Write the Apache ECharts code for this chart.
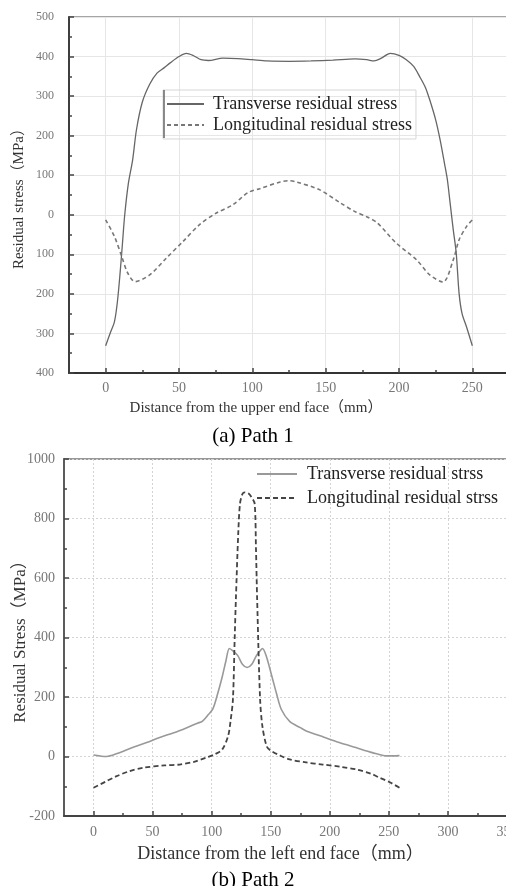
<!DOCTYPE html>
<html>
<head>
<meta charset="utf-8">
<script src="https://cdn.jsdelivr.net/npm/echarts@6/dist/echarts.min.js"></script>
<style>
  html, body { margin: 0; padding: 0; background: #fff; }
  #chart { width: 506px; height: 886px; }
</style>
</head>
<body>
<div id="chart"></div>
<script>
// Path 1 (distance from the upper end face, mm / stress, MPa)
const p1TransX = [0, 3, 6, 8, 10, 11.5, 13, 15.5, 18.4, 21, 25, 30, 35, 40, 44, 50, 55, 60, 65, 70, 80, 90, 100, 110, 125, 140, 155, 170, 178, 183, 188, 194, 200, 205, 210, 214, 218, 221, 225, 228, 231, 233, 235, 237, 239, 241, 243, 246, 250];
const p1TransY = [-331, -300, -270, -220, -140, -70, 0, 80, 139, 215, 285, 330, 358, 372, 384, 400, 408, 402, 392, 390, 396, 395, 392, 389, 388, 389, 391, 394, 392, 389, 396, 408, 403, 392, 375, 350, 322, 290, 240, 190, 130, 88, 25, -38, -96, -200, -250, -283, -331];
const p1LongX = [0, 6, 11, 15, 20, 30, 41.5, 52.6, 64, 75.7, 86.6, 97, 105, 119, 125, 130, 146, 160, 170, 178, 185, 198, 212, 221, 230, 237, 241, 246, 250];
const p1LongY = [-13, -55, -106, -147, -169, -152, -109, -68, -25, 5, 25, 56, 66, 83, 86, 83, 63, 30, 8, -5, -20, -71, -114, -152, -170, -114, -63, -30, -13];

// Path 2 (distance from the left end face, mm / stress, MPa)
const p2TransX = [0, 5, 11, 20, 33, 45, 56, 68, 79, 88, 92, 97, 101, 105, 109, 112, 115, 118, 122, 126, 130, 134, 138, 141, 143, 146, 151, 155, 159, 166, 175, 180, 195, 208, 222, 236, 248, 259];
const p2TransY = [5, 2, 0, 10, 30, 47, 64, 80, 97, 112, 118, 140, 160, 210, 269, 320, 363, 355, 340, 310, 299, 310, 340, 355, 363, 340, 269, 210, 158, 118, 97, 86, 65, 47, 30, 13, 2, 3];
const p2LongX = [0, 10, 19, 30, 42, 60, 73, 85, 96, 103, 109, 114, 116, 118, 119.5, 120.5, 122.5, 124, 126, 128, 131, 134, 136.4, 137.5, 138.5, 141, 143, 146.6, 150, 158, 166, 180, 194, 210, 223, 235, 242, 250, 259];
const p2LongY = [-105, -85, -67, -50, -38, -30, -27, -18, -3, 8, 24, 70, 120, 192, 400, 528, 750, 850, 882, 888, 885, 870, 850, 700, 528, 192, 100, 34, 20, 3, -10, -20, -27, -35, -44, -58, -71, -85, -105];

const p1Ticks = [0, 50, 100, 150, 200, 250];
const p1Minor = [25, 75, 125, 175, 225];
const p2Ticks = [0, 50, 100, 150, 200, 250, 300, 350];
const p2Minor = [25, 75, 125, 175, 225, 275, 325];

const zip = (xs, ys) => xs.map((x, i) => [x, ys[i]]);

const serif = "'Liberation Serif', 'Noto Sans CJK SC', serif";
const chart = echarts.init(document.getElementById('chart'));

const minorAxis = (grid, min, max, values) => ({
  type: 'value', gridIndex: grid, min: min, max: max, position: 'bottom',
  axisLine: { show: false, onZero: false },
  axisTick: { show: true, inside: true, length: 3, customValues: values, lineStyle: { color: '#444', width: 1.5 } },
  axisLabel: { show: false },
  splitLine: { show: false }
});

const option = {
  animation: false,
  backgroundColor: '#fff',
  title: [
    { text: '(a) Path 1', left: 'center', top: 421, textStyle: { fontFamily: serif, fontSize: 21, fontWeight: 'normal', color: '#000' } },
    { text: '(b) Path 2', left: 'center', top: 865, textStyle: { fontFamily: serif, fontSize: 21, fontWeight: 'normal', color: '#000' } }
  ],
  grid: [
    { left: 69, top: 17, width: 440, height: 356, show: true, borderColor: '#888', borderWidth: 1.5, outerBoundsMode: 'none' },
    { left: 64, top: 459, width: 443, height: 357, show: true, borderColor: '#777', borderWidth: 1.5, outerBoundsMode: 'none' }
  ],
  legend: [
    {
      data: ['Transverse residual stress', 'Longitudinal residual stress'],
      orient: 'vertical', left: 163, top: 90,
      borderColor: '#d6d6d6', borderWidth: 1, padding: [5, 4, 5, 3],
      itemWidth: 37, itemHeight: 14, itemGap: 3,
      itemStyle: { opacity: 0 },
      textStyle: { fontFamily: serif, fontSize: 18, color: '#222', padding: [0, 0, 0, 4] }
    },
    {
      data: ['Transverse residual strss', 'Longitudinal residual strss'],
      orient: 'vertical', left: 256, top: 465, padding: 0,
      itemWidth: 40, itemHeight: 14, itemGap: 6,
      itemStyle: { opacity: 0 },
      textStyle: { fontFamily: serif, fontSize: 18, color: '#222', padding: [0, 0, 0, 5] }
    }
  ],
  graphic: [
    { type: 'line', shape: { x1: 164, y1: 90, x2: 164, y2: 138 }, style: { stroke: '#666', lineWidth: 1.5 }, z: 100 }
  ],
  xAxis: [
    {
      type: 'value', gridIndex: 0, min: -25, max: 275,
      name: 'Distance from the upper end face（mm）', nameLocation: 'middle', nameGap: 28,
      nameTextStyle: { fontFamily: serif, fontSize: 15, color: '#333', padding: [0, 66, 0, 0] },
      axisLine: { onZero: false, lineStyle: { color: '#333', width: 1.8 } },
      axisTick: { inside: true, length: 5, customValues: p1Ticks, lineStyle: { color: '#444', width: 1.5 } },
      axisLabel: { customValues: p1Ticks, margin: 8, fontFamily: serif, fontSize: 14, color: '#777' },
      splitLine: { show: true, lineStyle: { color: '#e6e6e6', width: 1 } }
    },
    minorAxis(0, -25, 275, p1Minor),
    {
      type: 'value', gridIndex: 1, min: -25, max: 350,
      name: 'Distance from the left end face（mm）', nameLocation: 'middle', nameGap: 29,
      nameTextStyle: { fontFamily: serif, fontSize: 18, color: '#333', padding: [0, 10, 0, 0] },
      axisLine: { onZero: false, lineStyle: { color: '#444', width: 1.8 } },
      axisTick: { inside: true, length: 5, customValues: p2Ticks, lineStyle: { color: '#444', width: 1.5 } },
      axisLabel: { customValues: p2Ticks, margin: 9, fontFamily: serif, fontSize: 14, color: '#777' },
      splitLine: { show: true, lineStyle: { color: '#d4d4d4', width: 1, type: [2, 2] } }
    },
    minorAxis(1, -25, 350, p2Minor)
  ],
  yAxis: [
    {
      type: 'value', gridIndex: 0, min: -400, max: 500, interval: 100,
      name: 'Residual stress（MPa）', nameLocation: 'middle', nameGap: 42, nameMoveOverlap: false,
      nameTextStyle: { fontFamily: serif, fontSize: 15, color: '#333' },
      axisLine: { show: true, onZero: false, lineStyle: { color: '#333', width: 1.8 } },
      axisTick: { show: true, inside: true, length: 5, lineStyle: { color: '#444', width: 1.5 } },
      minorTick: { show: true, splitNumber: 2, length: 3, lineStyle: { color: '#444', width: 1.5 } },
      axisLabel: { margin: 15, fontFamily: serif, fontSize: 12, color: '#777', formatter: v => String(Math.abs(v)) },
      splitLine: { show: true, lineStyle: { color: '#e6e6e6', width: 1 } }
    },
    {
      type: 'value', gridIndex: 1, min: -200, max: 1000, interval: 200,
      name: 'Residual Stress（MPa）', nameLocation: 'middle', nameGap: 35, nameMoveOverlap: false,
      nameTextStyle: { fontFamily: serif, fontSize: 17, color: '#333' },
      axisLine: { show: true, onZero: false, lineStyle: { color: '#555', width: 1.8 } },
      axisTick: { show: true, inside: true, length: 5, lineStyle: { color: '#444', width: 1.5 } },
      minorTick: { show: true, splitNumber: 2, length: 3, lineStyle: { color: '#444', width: 1.5 } },
      axisLabel: { margin: 9, fontFamily: serif, fontSize: 14, color: '#777', formatter: v => String(v) },
      splitLine: { show: true, lineStyle: { color: '#d4d4d4', width: 1, type: [2, 2] } }
    }
  ],
  series: [
    {
      name: 'Transverse residual stress', type: 'line', xAxisIndex: 0, yAxisIndex: 0,
      data: zip(p1TransX, p1TransY), symbol: 'none', smooth: 0.3,
      color: '#666', lineStyle: { color: '#666', width: 1.3 }
    },
    {
      name: 'Longitudinal residual stress', type: 'line', xAxisIndex: 0, yAxisIndex: 0,
      data: zip(p1LongX, p1LongY), symbol: 'none', smooth: 0.3,
      color: '#777', lineStyle: { color: '#777', width: 1.6, type: [4, 3] }
    },
    {
      name: 'Transverse residual strss', type: 'line', xAxisIndex: 2, yAxisIndex: 1,
      data: zip(p2TransX, p2TransY), symbol: 'none', smooth: 0.3,
      color: '#999', lineStyle: { color: '#999', width: 1.6 }
    },
    {
      name: 'Longitudinal residual strss', type: 'line', xAxisIndex: 2, yAxisIndex: 1,
      data: zip(p2LongX, p2LongY), symbol: 'none', smooth: 0.3,
      color: '#444', lineStyle: { color: '#444', width: 1.8, type: [5, 3] }
    }
  ]
};

chart.setOption(option);
</script>
</body>
</html>
